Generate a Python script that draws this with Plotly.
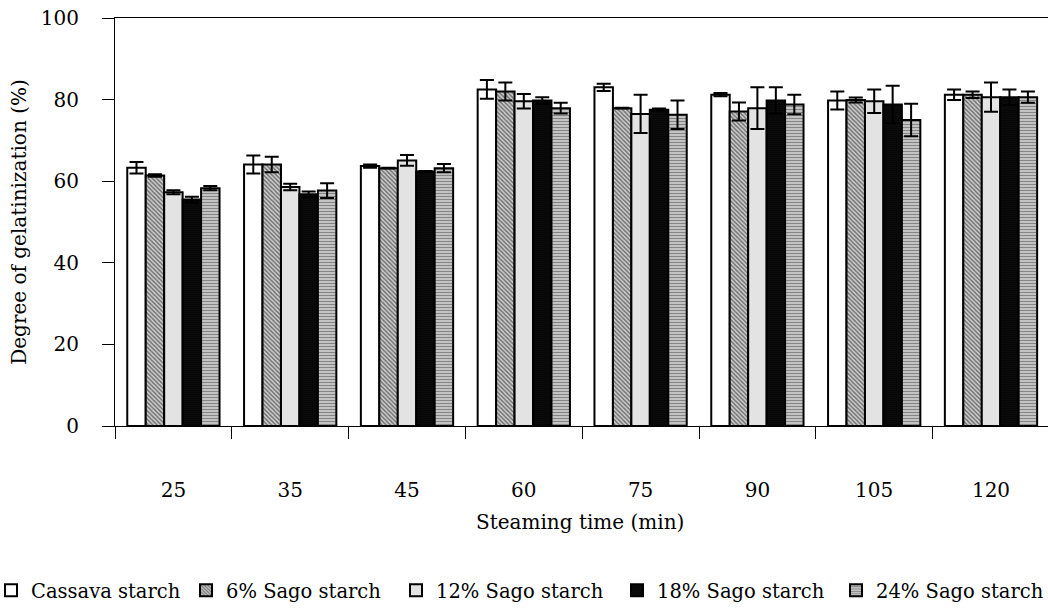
import plotly.graph_objects as go

# ---------------- data ----------------
steaming_time = ["25", "35", "45", "60", "75", "90", "105", "120"]
series_names = ["Cassava starch", "6% Sago starch", "12% Sago starch",
                "18% Sago starch", "24% Sago starch"]

cassava = [63.3, 64.1, 63.7, 82.5, 83.0, 81.2, 79.8, 81.2]
sago6 = [61.4, 64.1, 63.2, 82.0, 77.9, 77.1, 79.9, 81.2]
sago12 = [57.3, 58.6, 65.1, 79.6, 76.5, 77.9, 79.6, 80.6]
sago18 = [55.5, 56.8, 62.4, 79.8, 77.5, 79.8, 78.8, 80.6]
sago24 = [58.3, 57.7, 63.2, 77.9, 76.3, 78.8, 75.0, 80.6]

cassava_err = [1.4, 2.2, 0.4, 2.3, 0.9, 0.4, 2.2, 1.3]
sago6_err = [0.3, 1.9, 0.1, 2.2, 0.1, 2.2, 0.6, 0.8]
sago12_err = [0.5, 0.8, 1.3, 1.8, 4.7, 5.1, 2.9, 3.6]
sago18_err = [0.7, 0.7, 0.1, 0.8, 0.3, 3.2, 4.6, 1.9]
sago24_err = [0.5, 1.8, 1.0, 1.3, 3.5, 2.4, 4.0, 1.4]

y_ticks = [0, 20, 40, 60, 80, 100]

# ---------------- styling ----------------
FONT = "DejaVu Serif"
FS = 20

FIG_W, FIG_H = 1250, 613
M_L, M_T, M_B = 115, 18, 187
PLOT_W = FIG_W - M_L
PLOT_H = FIG_H - M_T - M_B
CAT_W = 116.8  # pixels per category

styles = [
    dict(color="white", pattern=dict(shape="")),
    dict(color="white", pattern=dict(shape="\\", fgcolor="#111111", bgcolor="#d0d0d0",
                                      size=3, solidity=0.5)),
    dict(color="white", pattern=dict(shape=".", fgcolor="#5f5f5f", bgcolor="white",
                                      size=2, solidity=0.35)),
    dict(color="black", pattern=dict(shape=".", fgcolor="#4a4a4a", bgcolor="black",
                                      size=2, solidity=0.3)),
    dict(color="#bbbbbb", pattern=dict(shape="-", fgcolor="#3a3a3a", bgcolor="#d0d0d0",
                                        size=3, solidity=0.45)),
]
legend_widths = [150, 165, 176, 174, 180]

values = [cassava, sago6, sago12, sago18, sago24]
errors = [cassava_err, sago6_err, sago12_err, sago18_err, sago24_err]

fig = go.Figure()
for name, vals, errs, st, lw in zip(series_names, values, errors, styles, legend_widths):
    fig.add_trace(go.Bar(
        x=steaming_time, y=vals, name=name,
        marker=dict(color=st["color"], pattern=st["pattern"],
                    line=dict(color="black", width=2)),
        error_y=dict(type="data", array=errs, visible=True, color="black",
                     thickness=2, width=7),
        legendwidth=lw,
    ))

legend_left_px = -9
fig.update_layout(
    width=FIG_W, height=FIG_H,
    margin=dict(l=M_L, r=0, t=M_T, b=M_B, autoexpand=False),
    paper_bgcolor="white", plot_bgcolor="white",
    font=dict(family=FONT, size=FS, color="black"),
    barmode="group", bargap=0.21, bargroupgap=0,
    showlegend=True,
    legend=dict(orientation="h", x=(legend_left_px - M_L) / PLOT_W, xanchor="left",
                y=-(590.5 - (M_T + PLOT_H)) / PLOT_H, yanchor="middle",
                font=dict(family=FONT, size=19.5, color="black"),
                bgcolor="rgba(0,0,0,0)", traceorder="normal"),
    xaxis=dict(type="category", range=[-0.5, -0.5 + PLOT_W / CAT_W],
               showline=True, linecolor="black", linewidth=1, mirror=True,
               ticks="outside", tickson="boundaries", ticklen=12, tickcolor="black",
               ticklabelstandoff=46, showgrid=False, zeroline=False,
               tickfont=dict(family=FONT, size=FS)),
    yaxis=dict(range=[0, 100], tickvals=y_ticks, showline=True, linecolor="black",
               linewidth=1, ticks="outside", ticklen=12, tickcolor="black",
               ticklabelstandoff=19, showgrid=False, zeroline=False,
               tickfont=dict(family=FONT, size=FS),
               title=dict(text="Degree of gelatinization (%)", standoff=8,
                          font=dict(family=FONT, size=FS))),
    annotations=[dict(text="Steaming time (min)", xref="paper", yref="paper",
                      x=(580 - M_L) / PLOT_W, y=-(522 - (M_T + PLOT_H)) / PLOT_H,
                      xanchor="center", yanchor="middle", showarrow=False,
                      font=dict(family=FONT, size=FS))],
)

fig.write_html("out.html", config={"displayModeBar": False}, post_script=(
    "document.body.style.margin='0';"
    "document.body.style.overflow='hidden';"
    "document.documentElement.style.overflow='hidden';"))
